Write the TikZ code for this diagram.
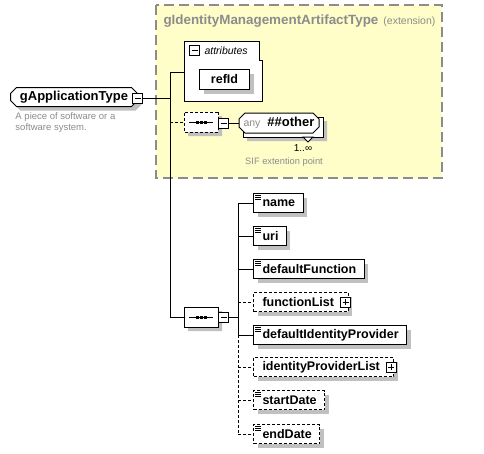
\documentclass[tikz,border=0pt]{standalone}
\usepackage{fontspec}
\setmainfont{Liberation Sans}
\usetikzlibrary{shapes.misc,shadows,calc}
\definecolor{ybg}{HTML}{FFFDC8}
\definecolor{ybd}{HTML}{8C8C8C}
\definecolor{gtx}{HTML}{8C8C8C}
\definecolor{shadowgray}{HTML}{C0C0C0}
\tikzset{
  shd/.style={drop shadow={shadow xshift=4pt,shadow yshift=-4pt,fill=shadowgray,opacity=1}},
  lbl/.style={font=\bfseries\fontsize{12.5}{14}\selectfont},
  optl/.style={dash pattern=on 3pt off 2pt},
  elem/.style={draw, fill=white, line width=1pt, anchor=west, minimum height=19pt, inner xsep=8pt, inner ysep=0pt, shd, lbl},
  chamf/.style={chamfered rectangle, chamfered rectangle xsep=3pt, chamfered rectangle ysep=3pt},
  seqsty/.style={chamf, draw, fill=white, line width=1pt, minimum width=34pt, minimum height=20pt, inner sep=0pt, shd},
  boxbase/.style={draw, fill=white, minimum size=10pt, inner sep=0pt, line width=1pt},
  minusbox/.style={boxbase,
    path picture={\draw[line width=1pt] ([xshift=2pt]path picture bounding box.west) -- ([xshift=-2pt]path picture bounding box.east);}},
  plusbox/.style={boxbase,
    path picture={\draw[line width=1pt] ([xshift=2pt]path picture bounding box.west) -- ([xshift=-2pt]path picture bounding box.east);
      \draw[line width=1pt] ([yshift=2pt]path picture bounding box.south) -- ([yshift=-2pt]path picture bounding box.north);}},
}
\begin{document}
\begin{tikzpicture}[x=1pt,y=-1pt,line width=1pt]
\useasboundingbox (0,0) rectangle (484,453);
\fill[white] (0,0) rectangle (484,453);

% extension area
\draw[ybd, fill=ybg, line width=1.5pt, dash pattern=on 10pt off 5pt] (156,5) rectangle (442,178);
\node[anchor=west, text=gtx, font=\bfseries\fontsize{13.4}{15}\selectfont, inner sep=0pt] (ttl) at (163,21) {gIdentityManagementArtifactType};
\node[anchor=base west, text=gtx, font=\fontsize{10.5}{12}\selectfont, inner sep=0pt] (ext) at ([xshift=4pt]ttl.base east) {(extension)};

% attributes group
\node[anchor=north west, minimum width=77pt, minimum height=59pt, inner sep=0pt] (attr) at (184,41) {};
\draw[fill=white] (attr.north west) -- ($(attr.north east)+(-3,0)$) -- ($(attr.north east)+(-3,19)$) -- ($(attr.north east)+(0,19)$) -- (attr.south east) -- (attr.south west) -- cycle;
\node[minusbox] (am) at (194.5,50.5) {};
\node[anchor=west, font=\itshape\fontsize{10.5}{12}\selectfont, inner sep=0pt] (attl) at (204,51) {attributes};
\node[draw, fill=white, shd, lbl, minimum width=50pt, minimum height=20pt, inner sep=0pt, anchor=north west] (refid) at (199,69) {refId};

% root element
\node[chamf, draw, fill=white, shd, font=\bfseries\fontsize{13}{15}\selectfont, minimum width=127pt, minimum height=19pt, inner sep=0pt, anchor=west] (gapp) at (10,97) {gApplicationType};
\node[minusbox] (gm) at (137.5,98.5) {};
\node[anchor=north west, align=left, text=gtx, font=\fontsize{9.5}{11}\selectfont, inner sep=0pt] (desc) at (15,112) {A piece of software or a\\software system.};

% main spine
\coordinate (sp1) at (170,72);
\coordinate (sp2) at (170,317);
\coordinate (j1) at (170,122);
\draw (sp1) -- (sp2);
\draw (gm.east) -- (gm.east -| sp1);
\draw (sp1) -- (sp1 -| attr.west);

% sequence 1 with any
\node[seqsty, optl] (seq1) at (201,122) {};
\draw ($(seq1.center)+(-12,0)$) -- ($(seq1.center)+(12,0)$);
\foreach \d in {-4,0,4} \fill ($(seq1.center)+(\d-1.5,-1.5)$) rectangle ++(3,3);
\node[minusbox] (sm1) at (223.5,123) {};
\draw[optl] (j1) -- (seq1.west);
\node[chamf, draw, fill=white, shd, minimum width=80pt, minimum height=20pt, inner sep=0pt] (anyb) at (283,127) {};
\node[chamf, draw, fill=white, minimum width=80pt, minimum height=20pt, inner sep=0pt] (any) at (279,123) {{\color{gtx}\fontsize{10.5}{12}\selectfont any}\hspace{7pt}{\bfseries\fontsize{13}{15}\selectfont\#\#other}};
\draw[fill=white] (303,137) -- (313,137) -- (308,142) -- cycle;
\draw (sm1.east) -- (any.west);
\node[font=\fontsize{10}{12}\selectfont, inner sep=0pt] (mult) at (303,148) {1..∞};
\node[text=gtx, font=\fontsize{9.3}{11}\selectfont, inner sep=0pt] (sif) at (284,162) {SIF extention point};

% sequence 2
\node[seqsty] (seq2) at (201,317) {};
\draw ($(seq2.center)+(-12,0)$) -- ($(seq2.center)+(12,0)$);
\foreach \d in {-4,0,4} \fill ($(seq2.center)+(\d-1.5,-1.5)$) rectangle ++(3,3);
\node[minusbox] (sm2) at (223.5,317) {};
\draw (sp2) -- (seq2.west);

% children
\node[elem] (name) at (253,203) {\hspace*{1pt}name};
\node[elem] (uri) at (253,236) {\hspace*{1pt}uri};
\node[elem] (deffn) at (253,269) {\hspace*{1pt}defaultFunction};
\node[elem, optl] (fnlist) at (253,302) {\hspace*{1pt}functionList\hspace*{6pt}};
\node[elem] (defidp) at (253,335) {\hspace*{1pt}defaultIdentityProvider};
\node[elem, optl] (idplist) at (253,367) {\hspace*{1pt}identityProviderList\hspace*{6pt}};
\node[elem, optl] (start) at (253,400) {\hspace*{1pt}startDate};
\node[elem, optl] (enddate) at (253,434) {\hspace*{1pt}endDate};
\node[plusbox] (p1) at ($(fnlist.east)+(-3,0)$) {};
\node[plusbox] (p2) at ($(idplist.east)+(-3,0)$) {};

\foreach \n in {name,uri,deffn,defidp,start,enddate}{
  \draw[line width=0.8pt] ($(\n.north west)+(2,2.5)$) -- ++(6,0);
  \draw[line width=0.8pt] ($(\n.north west)+(2,4.5)$) -- ++(6,0);
  \draw[line width=0.8pt] ($(\n.north west)+(2,6.5)$) -- ++(6,0);
}

\coordinate (cs1) at (238,203);
\coordinate (cs2) at (238,335);
\coordinate (cs3) at (238,434);
\draw (sm2.east) -- (sm2.east -| cs1);
\draw (cs1) -- (cs2);
\draw[optl] (cs2) -- (cs3);
\foreach \n in {name,uri,deffn,defidp}{\draw (\n.west -| cs1) -- (\n.west);}
\foreach \n in {fnlist,idplist,start,enddate}{\draw[optl] (\n.west -| cs1) -- (\n.west);}
\end{tikzpicture}
\end{document}
